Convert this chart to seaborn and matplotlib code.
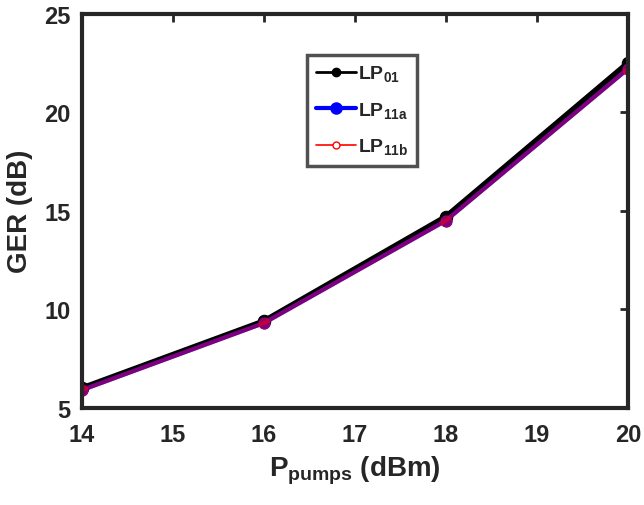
import numpy as np
import pandas as pd
import matplotlib
matplotlib.use("Agg")
import matplotlib.pyplot as plt
import seaborn as sns
from matplotlib.lines import Line2D

# valeurs
p_pumps = [14, 16, 18, 20]
ger_lp01 = [6.0, 9.4, 14.7, 22.5]
ger_lp11a = [5.9, 9.3, 14.5, 22.2]
ger_lp11b = [5.9, 9.3, 14.5, 22.2]
x_ticks = [14, 15, 16, 17, 18, 19, 20]
y_ticks = [5, 10, 15, 20, 25]
legend_labels = [r'LP$_{\mathbf{01}}$', r'LP$_{\mathbf{11a}}$', r'LP$_{\mathbf{11b}}$']

sns.set_style("white")
plt.rcParams['font.family'] = ['Liberation Sans', 'DejaVu Sans']
plt.rcParams['font.weight'] = 'bold'
plt.rcParams['mathtext.fontset'] = 'custom'
plt.rcParams['mathtext.bf'] = 'Liberation Sans:bold'
plt.rcParams['mathtext.rm'] = 'Liberation Sans:bold'

df = pd.DataFrame({'P': p_pumps, 'LP01': ger_lp01, 'LP11a': ger_lp11a, 'LP11b': ger_lp11b})

fig = plt.figure(figsize=(6.44, 5.06), dpi=100)
ax = fig.add_axes([0.127, 0.192, 0.848, 0.779])

sns.lineplot(data=df, x='P', y='LP01', ax=ax, color='black', lw=4,
             marker='o', markersize=9, markeredgecolor='black', legend=False)
sns.lineplot(data=df, x='P', y='LP11a', ax=ax, color='#0000ff', lw=3,
             marker='o', markersize=8, markeredgecolor='#0000ff', legend=False)
sns.lineplot(data=df, x='P', y='LP11b', ax=ax, color='#ff0000', lw=3, alpha=0.5,
             marker='o', markersize=8, markerfacecolor='#ff0000', markeredgecolor='#ff0000',
             legend=False)

ax.set_xlim(14, 20)
ax.set_ylim(5, 25)
ax.set_xticks(x_ticks)
ax.set_yticks(y_ticks)
ax.tick_params(direction='in', length=6, width=2, labelsize=17, colors='#262626',
               top=True, right=True)
ax.tick_params(axis='x', pad=11)
ax.tick_params(axis='y', pad=8)
for lab in ax.get_xticklabels() + ax.get_yticklabels():
    lab.set_fontweight('bold')
for s in ax.spines.values():
    s.set_linewidth(3)
    s.set_color('#262626')

ax.set_xlabel(r'P$_{\mathbf{pumps}}$ (dBm)', fontsize=20, fontweight='bold', color='#262626', labelpad=5)
ax.set_ylabel('GER (dB)', fontsize=20, fontweight='bold', color='#262626', labelpad=8)

# légende avec les marqueurs d'origine (rouge creux)
handles = [
    Line2D([], [], color='black', lw=2, marker='o', markersize=6),
    Line2D([], [], color='#0000ff', lw=3, marker='o', markersize=8),
    Line2D([], [], color='#ff0000', lw=1.2, marker='o', markersize=5, markerfacecolor='white'),
]
leg = ax.legend(handles, legend_labels, loc='upper left', bbox_to_anchor=(0.412, 0.896),
                fontsize=14, frameon=True, fancybox=False, handlelength=2.1,
                handletextpad=0.1, borderpad=0.45, labelspacing=0.85, borderaxespad=0)
leg.get_frame().set_edgecolor('#262626')
leg.get_frame().set_linewidth(2.5)
for t in leg.get_texts():
    t.set_fontweight('bold')

fig.savefig('out.png', dpi=100)
